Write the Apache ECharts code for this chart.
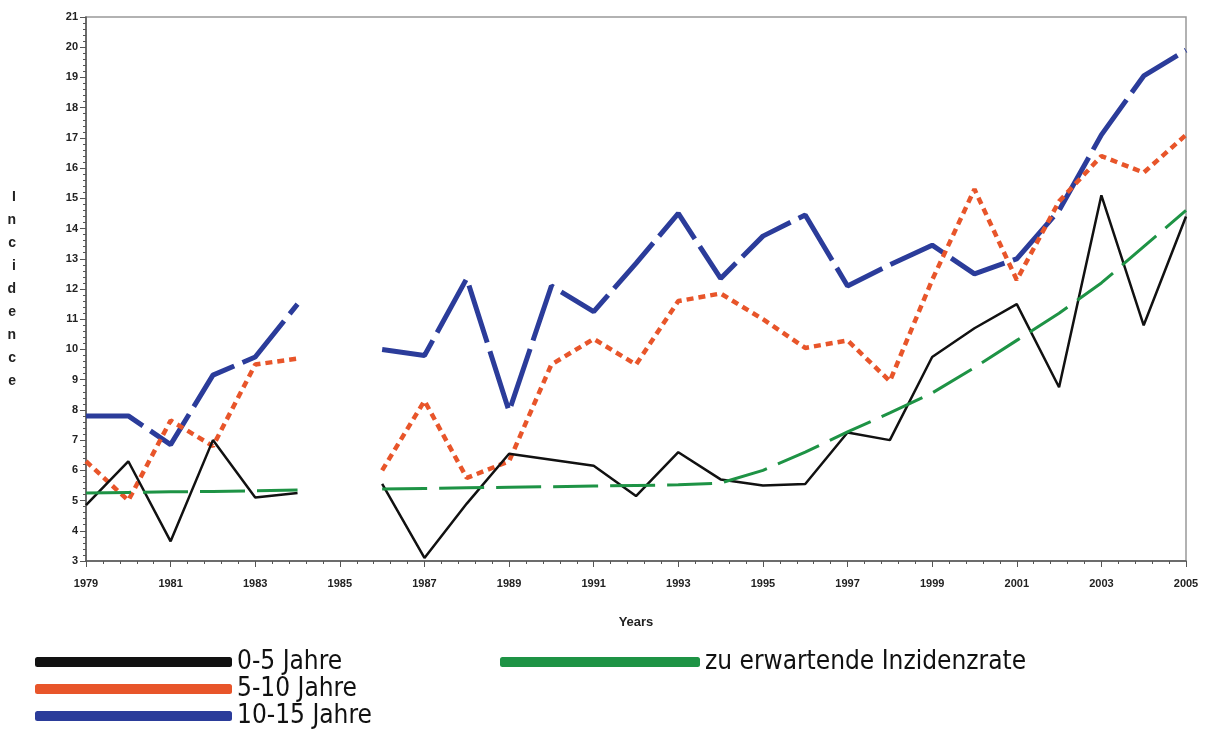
<!DOCTYPE html>
<html>
<head>
<meta charset="utf-8">
<script src="https://cdn.jsdelivr.net/npm/echarts@6/dist/echarts.min.js"></script>
<style>
  html, body { margin: 0; padding: 0; background: #fff; }
  #chart { width: 1214px; height: 730px; }
</style>
</head>
<body>
<div id="chart"></div>
<script>
  // Jahre, 1985 fehlt
  const years = [1979, 1980, 1981, 1982, 1983, 1984, 1985, 1986, 1987, 1988, 1989, 1990, 1991, 1992,
    1993, 1994, 1995, 1996, 1997, 1998, 1999, 2000, 2001, 2002, 2003, 2004, 2005];
  const age0to5 = [4.85, 6.3, 3.65, 7.0, 5.1, 5.25, null, 5.55, 3.1, 4.9, 6.55, 6.35, 6.15, 5.15,
    6.6, 5.7, 5.5, 5.55, 7.25, 7.0, 9.75, 10.7, 11.5, 8.75, 15.1, 10.8, 14.4];
  const age5to10 = [6.3, 5.0, 7.65, 6.8, 9.5, 9.7, null, 6.0, 8.3, 5.75, 6.3, 9.5, 10.35, 9.5,
    11.6, 11.85, 11.0, 10.05, 10.3, 8.95, 12.3, 15.3, 12.3, 14.9, 16.4, 15.85, 17.1];
  const age10to15 = [7.8, 7.8, 6.85, 9.15, 9.75, 11.5, null, 10.0, 9.8, 12.35, 7.95, 12.1, 11.25, 12.85,
    14.5, 12.35, 13.75, 14.45, 12.1, 12.8, 13.45, 12.5, 13.0, 14.6, 17.1, 19.05, 19.9];
  const expected = [5.25, 5.27, 5.29, 5.3, 5.32, 5.35, null, 5.38, 5.4, 5.42, 5.44, 5.46, 5.48, 5.5,
    5.52, 5.58, 6.0, 6.6, 7.27, 7.9, 8.56, 9.4, 10.3, 11.2, 12.2, 13.4, 14.6];
  const names = ['0-5 Jahre', '5-10 Jahre', '10-15 Jahre', 'zu erwartende Inzidenzrate'];

  const pairs = arr => years.map((y, i) => [y, arr[i]]);

  const chart = echarts.init(document.getElementById('chart'));
  const labelFont = { fontFamily: 'Liberation Sans, Arial, sans-serif', fontWeight: 'bold', fontSize: 11, color: '#222' };
  const legendText = { fontFamily: "'Liberation Sans Narrow', 'DejaVu Sans Condensed', sans-serif", fontSize: 26, color: '#111' };

  // eine Legende je Eintrag, damit die Zeilen wie im Original liegen
  function legendAt(name, left, top, width) {
    return {
      left: left, top: top, itemWidth: width, itemHeight: 10,
      icon: 'roundRect', itemStyle: { borderWidth: 0 },
      textStyle: legendText, padding: 0, data: [name]
    };
  }

  chart.setOption({
    animation: false,
    backgroundColor: '#fff',
    grid: {
      left: 86, right: 28, top: 17, bottom: 169,
      show: true, borderColor: '#999', borderWidth: 1.5
    },
    legend: [
      legendAt(names[0], 35, 649, 197),
      legendAt(names[1], 35, 676, 197),
      legendAt(names[2], 35, 703, 197),
      legendAt(names[3], 500, 649, 200)
    ],
    xAxis: {
      type: 'value', min: 1979, max: 2005, interval: 2,
      name: 'Years', nameLocation: 'middle', nameGap: 55,
      nameTextStyle: { fontFamily: 'Liberation Sans, Arial, sans-serif', fontWeight: 'bold', fontSize: 13, color: '#222' },
      axisLine: { lineStyle: { color: '#555', width: 1.5 } },
      axisTick: { length: 6, lineStyle: { color: '#555' } },
      minorTick: { show: true, splitNumber: 5, length: 3, lineStyle: { color: '#555' } },
      axisLabel: Object.assign({ margin: 17, formatter: v => String(v) }, labelFont),
      splitLine: { show: false }
    },
    yAxis: {
      type: 'value', min: 3, max: 21, interval: 1,
      name: 'I\nn\nc\ni\nd\ne\nn\nc\ne', nameLocation: 'middle', nameRotate: 0, nameGap: 70,
      nameTextStyle: { fontFamily: 'Liberation Sans, Arial, sans-serif', fontWeight: 'bold', fontSize: 14, color: '#222', lineHeight: 23 },
      axisLine: { show: true, lineStyle: { color: '#555', width: 1.5 } },
      axisTick: { show: true, length: 6, lineStyle: { color: '#555' } },
      minorTick: { show: true, splitNumber: 5, length: 3, lineStyle: { color: '#555' } },
      axisLabel: Object.assign({ margin: 8 }, labelFont),
      splitLine: { show: false }
    },
    series: [
      {
        name: names[0], type: 'line', data: pairs(age0to5), showSymbol: false, symbol: 'none',
        itemStyle: { color: '#111' },
        lineStyle: { color: '#111', width: 2.5 }, z: 4
      },
      {
        name: names[1], type: 'line', data: pairs(age5to10), showSymbol: false, symbol: 'none',
        itemStyle: { color: '#e8552a' },
        lineStyle: { color: '#e8552a', width: 4.5, type: [7, 5] }, z: 3
      },
      {
        name: names[2], type: 'line', data: pairs(age10to15), showSymbol: false, symbol: 'none',
        itemStyle: { color: '#2b3c9a' },
        lineStyle: { color: '#2b3c9a', width: 5, type: [60, 9] }, z: 2
      },
      {
        name: names[3], type: 'line', data: pairs(expected), showSymbol: false, symbol: 'none',
        itemStyle: { color: '#1e9345' },
        lineStyle: { color: '#1e9345', width: 3, type: [45, 12] }, z: 5
      }
    ]
  });
</script>
</body>
</html>
